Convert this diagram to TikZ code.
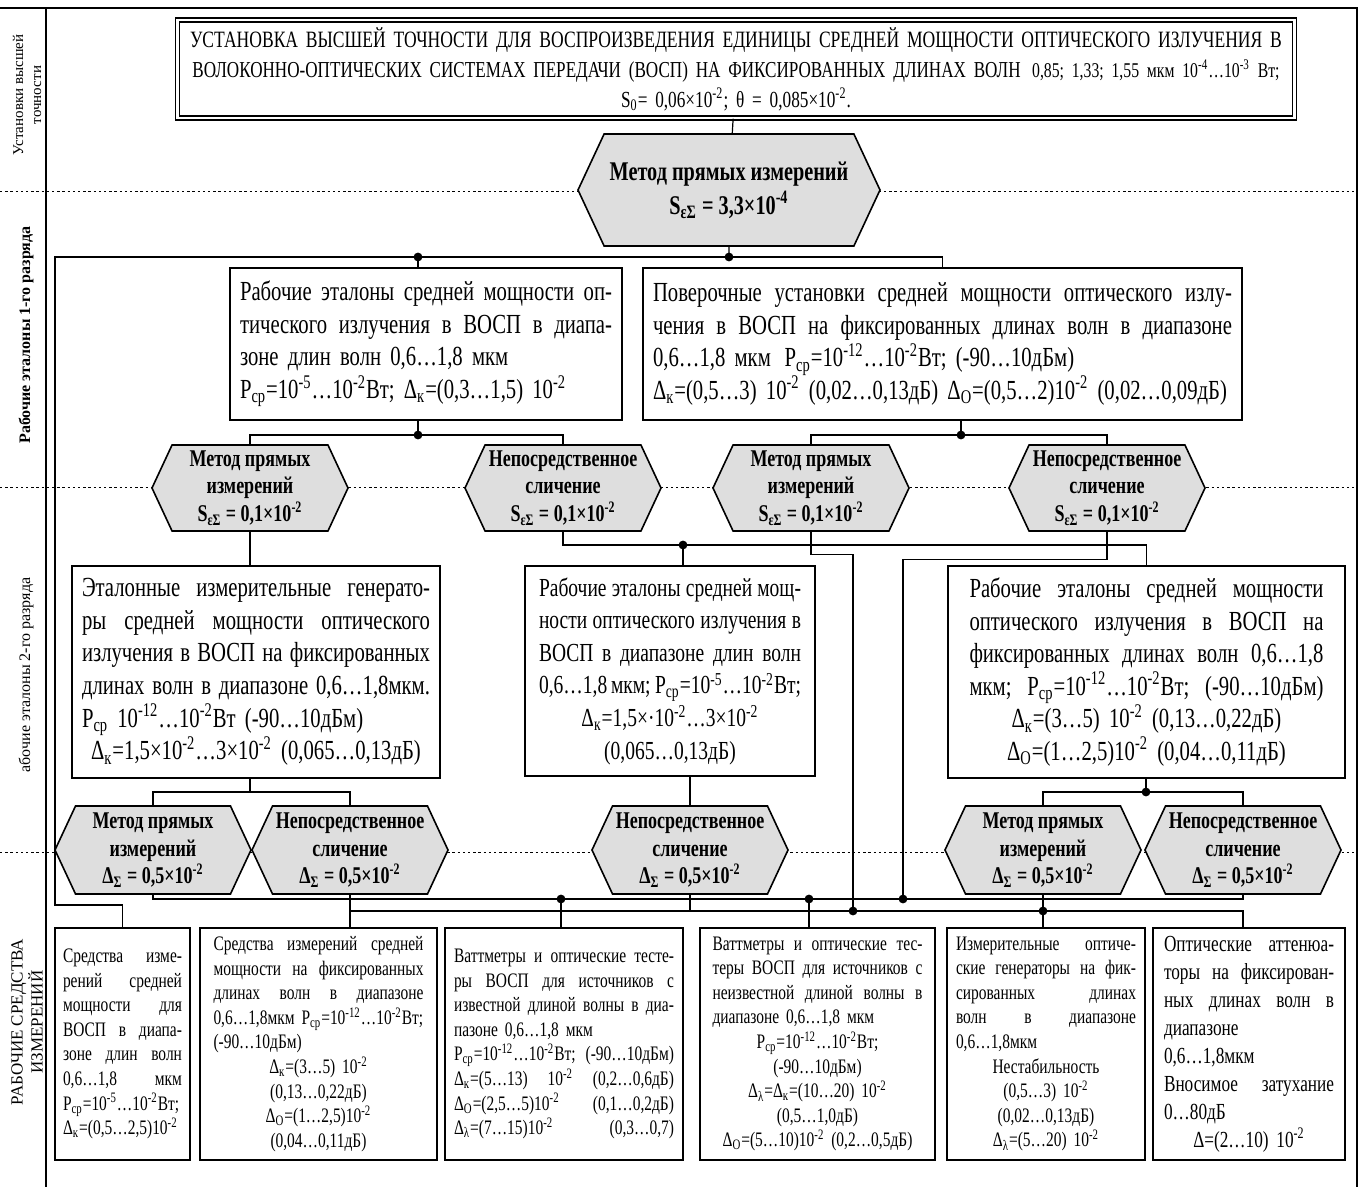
\documentclass[tikz,border=0pt]{standalone}
\usepackage{fontspec}
\setmainfont{Liberation Serif}[FakeStretch=0.75]
\newfontfamily\labelfont{Liberation Serif}
\usepackage{tikz}
\usetikzlibrary{shapes.symbols, positioning, calc}

\newcommand\ssub[1]{\textsubscript{#1}}
\newcommand\ssup[1]{\textsuperscript{#1}}
\newcommand\jl[1]{\leavevmode\hbox to\linewidth{\spaceskip=0.22em plus 1fil minus 0.08em\relax #1}}
\newcommand\cl[1]{\makebox[\linewidth][c]{#1}}

\begin{document}
\begin{tikzpicture}[
    x=0.5pt, y=-0.5pt,
    box/.style={draw, line width=0.7pt, inner xsep=5pt, inner ysep=2pt, align=left,
                font=\fontsize{13.8}{16.3}\selectfont},
    smallbox/.style={box, inner xsep=4pt, inner ysep=1pt, minimum height=116pt,
                font=\fontsize{10.3}{12.3}\selectfont},
    hexa/.style={draw, line width=0.8pt, fill=black!13, shape=signal,
                signal to=west and east, signal pointer angle=130, inner sep=1pt,
                minimum width=98pt, minimum height=43pt, align=center,
                font=\fontsize{12}{13.75}\selectfont\bfseries},
    dots/.style={dash pattern=on 1.2pt off 1.4pt, line width=0.5pt},
    wire/.style={line width=0.6pt},
    frame/.style={line width=0.7pt},
    rowlabel/.style={rotate=90, align=center, font=\labelfont\fontsize{7.5}{9}\selectfont}
]
\useasboundingbox (0,0) rectangle (1366,1187);

% frame and level separators
\draw[frame] (0,8) -- (1357,8) -- (1357,1187);
\draw[frame] (46,8) -- (46,1187);
\foreach \yy in {192,488,852}
    \draw[dots] (0,\yy) -- (1357,\yy);

% level labels
\node[rowlabel] (lev1) at (27,95) {Установки высшей\\точности};
\node[rowlabel, font=\labelfont\fontsize{8}{9}\selectfont\bfseries] (lev2) at (26,335)
    {Рабочие эталоны 1-го разряда};
\node[rowlabel, font=\labelfont\fontsize{8}{9}\selectfont] (lev3) at (26,675)
    {абочие эталоны 2-го разряда};
\node[rowlabel, font=\labelfont\fontsize{8.5}{10}\selectfont] (lev4) at (27,1022)
    {РАБОЧИЕ СРЕДСТВА\\ИЗМЕРЕНИЙ};

% top level
\node[draw, double, double distance=1.2pt, line width=0.7pt, minimum width=558pt,
      minimum height=49pt, text width=552pt, align=center,
      font=\fontsize{11.7}{15}\selectfont] (top) at (736,69)
    {УСТАНОВКА ВЫСШЕЙ ТОЧНОСТИ ДЛЯ ВОСПРОИЗВЕДЕНИЯ ЕДИНИЦЫ СРЕДНЕЙ МОЩНОСТИ ОПТИЧЕСКОГО ИЗЛУЧЕНИЯ В\\
     \cl{\fontsize{11.4}{15}\selectfont ВОЛОКОННО-ОПТИЧЕСКИХ СИСТЕМАХ ПЕРЕДАЧИ (ВОСП) НА ФИКСИРОВАННЫХ ДЛИНАХ ВОЛН\enspace
     {\fontsize{10.5}{15}\selectfont 0,85; 1,33; 1,55 мкм 10\ssup{-4}…10\ssup{-3} Вт;}}\\
     {\fontsize{11.5}{15}\selectfont S\ssub{0}= 0,06×10\ssup{-2}; θ = 0,085×10\ssup{-2}.}};
\node[hexa, minimum width=151pt, minimum height=56pt,
      font=\fontsize{13.5}{17}\selectfont\bfseries] (H1) at (729,190)
    {Метод прямых измерений\\S\ssub{εΣ} = 3,3×10\ssup{-4}};

% first rank
\node[box, minimum width=196pt, minimum height=76pt, text width=186pt] (L1) at (426,344)
    {\jl{Рабочие эталоны средней мощности оп-}\\
     \jl{тического излучения в ВОСП в диапа-}\\
     зоне длин волн 0,6…1,8 мкм\\
     P\ssub{ср}=10\ssup{-5}…10\ssup{-2}Вт; Δ\ssub{к}=(0,3…1,5) 10\ssup{-2}};
\node[box, minimum width=299.5pt, minimum height=76pt, text width=289.5pt] (R1) at (942.5,344)
    {\jl{Поверочные установки средней мощности оптического излу-}\\
     \jl{чения в ВОСП на фиксированных длинах волн в диапазоне}\\
     0,6…1,8 мкм\enspace P\ssub{ср}=10\ssup{-12}…10\ssup{-2}Вт; (-90…10дБм)\\
     Δ\ssub{к}=(0,5…3) 10\ssup{-2} (0,02…0,13дБ) Δ\ssub{O}=(0,5…2)10\ssup{-2} (0,02…0,09дБ)};

\node[hexa] (H2a) at (250,488) {Метод прямых\\измерений\\S\ssub{εΣ} = 0,1×10\ssup{-2}};
\node[hexa] (H2b) at (563,488) {Непосредственное\\сличение\\S\ssub{εΣ} = 0,1×10\ssup{-2}};
\node[hexa] (H2c) at (811,488) {Метод прямых\\измерений\\S\ssub{εΣ} = 0,1×10\ssup{-2}};
\node[hexa] (H2d) at (1107,488) {Непосредственное\\сличение\\S\ssub{εΣ} = 0,1×10\ssup{-2}};

% second rank
\node[box, minimum width=184pt, minimum height=106pt, text width=174pt] (E1) at (256,672)
    {\jl{Эталонные измерительные генерато-}\\
     \jl{ры средней мощности оптического}\\
     \jl{излучения в ВОСП на фиксированных}\\
     \jl{длинах волн в диапазоне 0,6…1,8мкм.}\\
     P\ssub{ср} 10\ssup{-12}…10\ssup{-2}Вт (-90…10дБм)\\
     \cl{Δ\ssub{к}=1,5×10\ssup{-2}…3×10\ssup{-2} (0,065…0,13дБ)}};
\node[box, minimum width=145pt, minimum height=105pt, text width=131pt,
      font=\fontsize{13}{16.3}\selectfont] (E2) at (670,671)
    {\jl{Рабочие эталоны средней мощ-}\\
     \jl{ности оптического излучения в}\\
     \jl{ВОСП в диапазоне длин волн}\\
     \jl{0,6…1,8 мкм; P\ssub{ср}=10\ssup{-5}…10\ssup{-2}Вт;}\\
     \cl{Δ\ssub{к}=1,5×·10\ssup{-2}…3×10\ssup{-2}}\\
     \cl{(0,065…0,13дБ)}};
\node[box, minimum width=198.5pt, minimum height=106pt, text width=177pt] (E3) at (1146.5,672)
    {\jl{Рабочие эталоны средней мощности}\\
     \jl{оптического излучения в ВОСП на}\\
     \jl{фиксированных длинах волн 0,6…1,8}\\
     \jl{мкм; P\ssub{ср}=10\ssup{-12}…10\ssup{-2}Вт; (-90…10дБм)}\\
     \cl{Δ\ssub{к}=(3…5) 10\ssup{-2} (0,13…0,22дБ)}\\
     \cl{Δ\ssub{O}=(1…2,5)10\ssup{-2} (0,04…0,11дБ)}};

\node[hexa, minimum height=44pt] (H3a) at (153,850) {Метод прямых\\измерений\\Δ\ssub{Σ} = 0,5×10\ssup{-2}};
\node[hexa, minimum height=44pt] (H3b) at (350,850) {Непосредственное\\сличение\\Δ\ssub{Σ} = 0,5×10\ssup{-2}};
\node[hexa, minimum height=44pt] (H3c) at (690,850) {Непосредственное\\сличение\\Δ\ssub{Σ} = 0,5×10\ssup{-2}};
\node[hexa, minimum height=44pt] (H3d) at (1043,850) {Метод прямых\\измерений\\Δ\ssub{Σ} = 0,5×10\ssup{-2}};
\node[hexa, minimum height=44pt] (H3e) at (1243,850) {Непосредственное\\сличение\\Δ\ssub{Σ} = 0,5×10\ssup{-2}};

% working measuring instruments
\node[smallbox, minimum width=67.5pt, text width=59.5pt] (B1) at (122.5,1044)
    {\jl{Средства изме-}\\
     \jl{рений средней}\\
     \jl{мощности для}\\
     \jl{ВОСП в диапа-}\\
     \jl{зоне длин волн}\\
     \jl{0,6…1,8 мкм}\\
     P\ssub{ср}=10\ssup{-5}…10\ssup{-2}Вт;\\
     Δ\ssub{к}=(0,5…2,5)10\ssup{-2}};
\node[smallbox, minimum width=118.5pt, text width=105pt] (B2) at (318.5,1044)
    {\jl{Средства измерений средней}\\
     \jl{мощности на фиксированных}\\
     \jl{длинах волн в диапазоне}\\
     0,6…1,8мкм P\ssub{ср}=10\ssup{-12}…10\ssup{-2}Вт;\\
     (-90…10дБм)\\
     \cl{Δ\ssub{к}=(3…5) 10\ssup{-2}}\\
     \cl{(0,13…0,22дБ)}\\
     \cl{Δ\ssub{O}=(1…2,5)10\ssup{-2}}\\
     \cl{(0,04…0,11дБ)}};
\node[smallbox, minimum width=119pt, text width=110pt] (B3) at (564,1044)
    {\jl{Ваттметры и оптические тесте-}\\
     \jl{ры ВОСП для источников с}\\
     \jl{известной длиной волны в диа-}\\
     пазоне 0,6…1,8 мкм\\
     \jl{P\ssub{ср}=10\ssup{-12}…10\ssup{-2}Вт; (-90…10дБм)}\\
     \jl{Δ\ssub{к}=(5…13) 10\ssup{-2} (0,2…0,6дБ)}\\
     \jl{Δ\ssub{O}=(2,5…5)10\ssup{-2} (0,1…0,2дБ)}\\
     \jl{Δ\ssub{λ}=(7…15)10\ssup{-2} (0,3…0,7)}};
\node[smallbox, minimum width=117.5pt, text width=105pt] (B4) at (817.5,1044)
    {\jl{Ваттметры и оптические тес-}\\
     \jl{теры ВОСП для источников с}\\
     \jl{неизвестной длиной волны в}\\
     диапазоне 0,6…1,8 мкм\\
     \cl{P\ssub{ср}=10\ssup{-12}…10\ssup{-2}Вт;}\\
     \cl{(-90…10дБм)}\\
     \cl{Δ\ssub{λ}=Δ\ssub{к}=(10…20) 10\ssup{-2}}\\
     \cl{(0,5…1,0дБ)}\\
     \cl{Δ\ssub{O}=(5…10)10\ssup{-2} (0,2…0,5дБ)}};
\node[smallbox, minimum width=99pt, text width=90pt] (B5) at (1046,1044)
    {\jl{Измерительные оптиче-}\\
     \jl{ские генераторы на фик-}\\
     \jl{сированных длинах}\\
     \jl{волн в диапазоне}\\
     0,6…1,8мкм\\
     \cl{Нестабильность}\\
     \cl{(0,5…3) 10\ssup{-2}}\\
     \cl{(0,02…0,13дБ)}\\
     \cl{Δ\ssub{λ}=(5…20) 10\ssup{-2}}};
\node[smallbox, minimum width=96pt, text width=85pt,
      font=\fontsize{11.5}{14}\selectfont] (B6) at (1249,1044)
    {\jl{Оптические аттенюа-}\\
     \jl{торы на фиксирован-}\\
     \jl{ных длинах волн в}\\
     диапазоне\\
     0,6…1,8мкм\\
     \jl{Вносимое затухание}\\
     0…80дБ\\
     \cl{Δ=(2…10) 10\ssup{-2}}};

% junctions
\coordinate (j0) at (729,257);
\coordinate (jL1) at (418,257);
\coordinate (cleft) at (55,905);
\coordinate (jL2) at (418,435);
\coordinate (jR2) at (961,435);
\coordinate (jE2) at (683,545);
\coordinate (kC) at (853,911);
\coordinate (kD) at (903,899);
\coordinate (jE1) at (250,792);
\coordinate (jE3) at (1146,792);
\coordinate (uE) at (1243,899);
\coordinate (lE) at (1243,911);

% connectors
\draw[wire] (top) -- (H1);
\draw[wire] (H1) -- (j0);
\draw[wire] (R1.north) |- (j0) -| (cleft) -| (B1.north);
\draw[wire] (jL1) -- (L1.north -| jL1);
\draw[wire] (jL2 |- L1.south) -- (jL2);
\draw[wire] (H2a.north) |- (jL2) -| (H2b.north);
\draw[wire] (jR2 |- R1.south) -- (jR2);
\draw[wire] (H2c.north) |- (jR2) -| (H2d.north);
\draw[wire] (H2a.south) -- (H2a.south |- E1.north);
\draw[wire] (H2b.south) |- (jE2) -| (E3.north);
\draw[wire] (jE2) -- (jE2 |- E2.north);
\draw[wire] (H2c.south) -- ++(0,23) -| (kC);
\draw[wire] (H2d.south) -- ++(0,28) -| (kD);
\draw[wire] (jE1 |- E1.south) -- (jE1);
\draw[wire] (H3a.north) |- (jE1) -| (H3b.north);
\draw[wire] (H3c.north |- E2.south) -- (H3c.north);
\draw[wire] (jE3 |- E3.south) -- (jE3);
\draw[wire] (H3d.north) |- (jE3) -| (H3e.north);
\draw[wire] (H3a.south) |- (uE) -- (H3e.south);
\draw[wire] (H3b.south) |- (lE) -- (lE |- B6.north);
\draw[wire] (H3b.south |- lE) -- (H3b.south |- B2.north);
\draw[wire] (561,899) -- (B3.north -| 561,0);
\draw[wire] (809,899) -- (B4.north -| 809,0);
\draw[wire] (H3c.south) -- (H3c.south |- lE);
\draw[wire] (H3d.south) -- (H3d.south |- B5.north);

% dots
\foreach \pt in {j0, jL1, jL2, jR2, jE2, kC, kD, jE3}
    \fill (\pt) circle (2.2pt);
\foreach \xx/\yy in {561/899, 809/899, 1043/911}
    \fill (\xx,\yy) circle (2.2pt);
\end{tikzpicture}
\end{document}
